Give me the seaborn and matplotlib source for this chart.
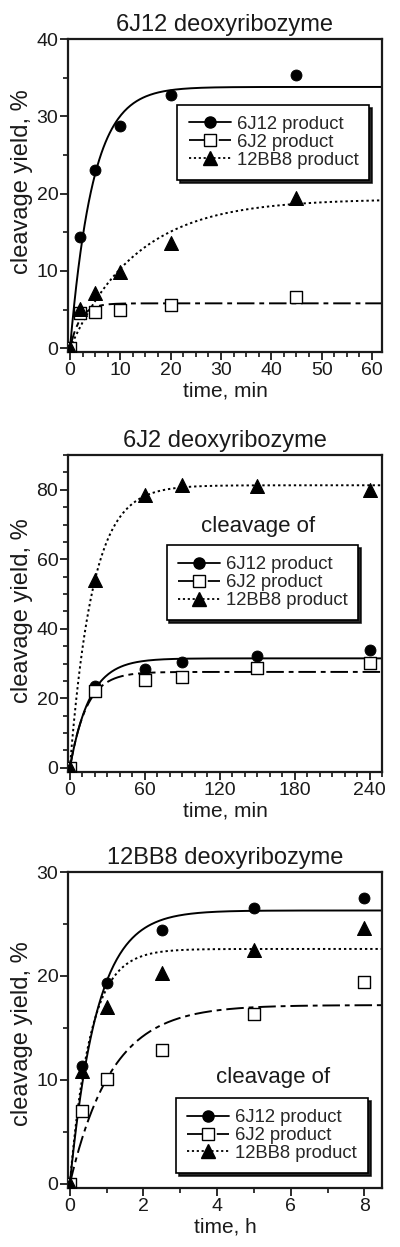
import numpy as np
import pandas as pd
import seaborn as sns
import matplotlib.pyplot as plt
from matplotlib.lines import Line2D
from matplotlib.ticker import MultipleLocator

sns.set_theme(style="ticks")
plt.rcParams['font.family'] = ['Liberation Sans', 'DejaVu Sans']

series = ['6J12 product', '6J2 product', '12BB8 product']

# panel 1: 6J12 deoxyribozyme (time in min)
t1 = [0, 2, 5, 10, 20, 45]
y1_6j12 = [0, 14.4, 23.1, 28.7, 32.7, 35.3]
y1_6j2 = [0, 4.5, 4.7, 5.0, 5.6, 6.6]
y1_12bb8 = [0, 5.1, 7.1, 9.8, 13.6, 19.4]
# single-exponential fits: plateau, rate
fit1 = {'6J12 product': (33.8, 0.22), '6J2 product': (5.8, 0.5), '12BB8 product': (19.3, 0.076)}

# panel 2: 6J2 deoxyribozyme (time in min)
t2 = [0, 20, 60, 90, 150, 240]
y2_6j12 = [0, 23.5, 28.5, 30.5, 32.2, 34.0]
y2_6j2 = [0, 22.0, 25.3, 26.0, 28.8, 30.2]
y2_12bb8 = [0, 54.0, 78.5, 81.3, 81.0, 79.8]
fit2 = {'6J12 product': (31.5, 0.063), '6J2 product': (27.6, 0.075), '12BB8 product': (81.3, 0.0545)}

# panel 3: 12BB8 deoxyribozyme (time in h)
t3 = [0, 0.33, 1, 2.5, 5, 8]
y3_6j12 = [0, 11.3, 19.3, 24.4, 26.5, 27.5]
y3_6j2 = [0, 7.0, 10.1, 12.9, 16.3, 19.4]
y3_12bb8 = [0, 10.9, 17.0, 20.3, 22.5, 24.6]
fit3 = {'6J12 product': (26.3, 1.35), '6J2 product': (17.2, 0.88), '12BB8 product': (22.6, 1.78)}

line_styles = {'6J12 product': '-',
               '6J2 product': (0, (9, 2.5, 2.5, 2.5)),
               '12BB8 product': (0, (1.2, 1.5))}
marker_kw = {'6J12 product': dict(marker='o', s=62, color='black', edgecolor='black'),
             '6J2 product': dict(marker='s', s=66, color='white', edgecolor='black', linewidth=1),
             '12BB8 product': dict(marker='^', s=100, color='black', edgecolor='black')}
handle_kw = {'6J12 product': dict(marker='o', ms=8, mfc='black', mec='black'),
             '6J2 product': dict(marker='s', ms=8, mfc='white', mec='black'),
             '12BB8 product': dict(marker='^', ms=9.5, mfc='black', mec='black')}

fig = plt.figure(figsize=(4.0, 12.47), dpi=100)
boxes = [[0.170, 0.7177, 0.785, 0.2510],
         [0.170, 0.3809, 0.785, 0.2542],
         [0.170, 0.0473, 0.785, 0.2534]]

panels = [
    dict(title='6J12 deoxyribozyme', t=t1, ys=[y1_6j12, y1_6j2, y1_12bb8], fit=fit1,
         xlim=(-0.4, 62), ylim=(-0.5, 40), xmaj=10, xmin=2.5, ymaj=10, ymin=5,
         xlabel='time, min', leg=(0.96, 0.79), note=None, ylab_y=0.543),
    dict(title='6J2 deoxyribozyme', t=t2, ys=[y2_6j12, y2_6j2, y2_12bb8], fit=fit2,
         xlim=(-1.5, 250), ylim=(-1.2, 90), xmaj=60, xmin=10, ymaj=20, ymin=5,
         xlabel='time, min', leg=(0.925, 0.716), note=(0.605, 0.773), ylab_y=0.51),
    dict(title='12BB8 deoxyribozyme', t=t3, ys=[y3_6j12, y3_6j2, y3_12bb8], fit=fit3,
         xlim=(-0.05, 8.48), ylim=(-0.4, 30), xmaj=2, xmin=1, ymaj=10, ymin=5,
         xlabel='time, h', leg=(0.955, 0.285), note=(0.653, 0.351), ylab_y=0.49),
]

for box, p in zip(boxes, panels):
    ax = fig.add_axes(box)
    tt = np.linspace(0, p['xlim'][1], 300)
    for name, yv in zip(series, p['ys']):
        a, k = p['fit'][name]
        sns.lineplot(x=tt, y=a * (1 - np.exp(-k * tt)), ax=ax, color='black',
                     linestyle=line_styles[name], linewidth=1.4, zorder=2)
    for name, yv in zip(series, p['ys']):
        df = pd.DataFrame({'t': p['t'], 'y': yv})
        sns.scatterplot(data=df, x='t', y='y', ax=ax, zorder=3, **marker_kw[name])
    ax.set_xlim(*p['xlim'])
    ax.set_ylim(*p['ylim'])
    ax.xaxis.set_major_locator(MultipleLocator(p['xmaj']))
    ax.xaxis.set_minor_locator(MultipleLocator(p['xmin']))
    ax.yaxis.set_major_locator(MultipleLocator(p['ymaj']))
    ax.yaxis.set_minor_locator(MultipleLocator(p['ymin']))
    ax.tick_params(which='major', length=6, width=1.3, labelsize=14, pad=1, colors='#1a1a1a')
    ax.tick_params(which='minor', length=3.5, width=1.3)
    for s in ax.spines.values():
        s.set_linewidth(1.6)
        s.set_color('#1a1a1a')
    ax.set_title(p['title'], fontsize=17, pad=6, color='#1a1a1a')
    ax.set_xlabel(p['xlabel'], fontsize=15, labelpad=2, color='#1a1a1a')
    ax.set_ylabel('cleavage yield, %', fontsize=17, color='#1a1a1a')
    ax.yaxis.set_label_coords(-0.11, p['ylab_y'])

    handles = [Line2D([], [], color='black', linestyle=line_styles[n], linewidth=1.3, **handle_kw[n])
               for n in series]
    leg = ax.legend(handles, series, loc='upper right', bbox_to_anchor=p['leg'], fontsize=13.3,
                    frameon=True, fancybox=False, shadow={'color': 'black', 'alpha': 0.85},
                    handlelength=2.3, handletextpad=0.3, borderpad=0.6, labelspacing=0.05,
                    borderaxespad=0)
    leg.get_frame().set_edgecolor('black')
    leg.get_frame().set_linewidth(1.2)
    if p['note'] is not None:
        ax.text(p['note'][0], p['note'][1], 'cleavage of', transform=ax.transAxes,
                ha='center', va='center', fontsize=16, color='#1a1a1a')

fig.savefig('out.png', dpi=100)
